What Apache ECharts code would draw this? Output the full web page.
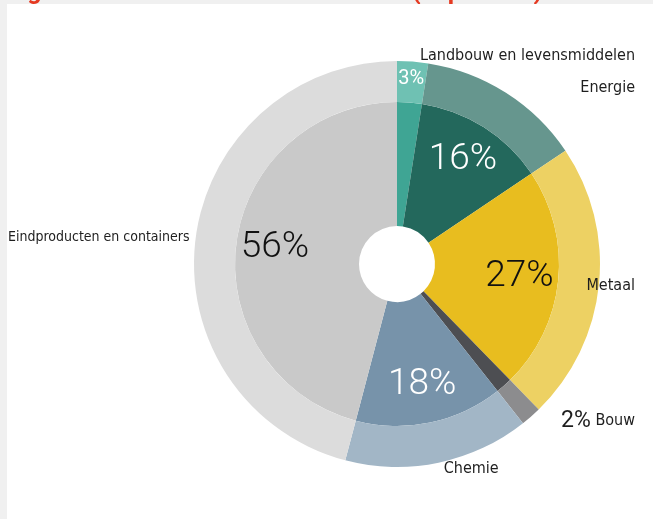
<!DOCTYPE html>
<html>
<head>
<meta charset="utf-8">
<script src="https://cdn.jsdelivr.net/npm/echarts@6/dist/echarts.min.js"></script>
<style>
  html, body { margin: 0; padding: 0; background: #ffffff; }
  #chart { width: 653px; height: 519px; }
</style>
</head>
<body>
<div id="chart"></div>
<script>
// Sectors and their shares (percent)
const sectors = ['Landbouw en levensmiddelen', 'Energie', 'Metaal', 'Bouw', 'Chemie', 'Eindproducten en containers'];
const shares = [3, 16, 27, 2, 18, 56];

// Colours: dark inner ring, light outer ring, colour of the percentage text
const innerColors = ['#3FA594', '#23685C', '#E8BD1F', '#4D4E52', '#7793AA', '#C9C9C9'];
const outerColors = ['#6FC1B3', '#66968E', '#EDD163', '#8C8C8E', '#A2B6C6', '#DCDCDC'];
const pctColors = ['#ffffff', '#ffffff', '#111111', '#111111', '#ffffff', '#111111'];
// Where each percentage is written: on the inner ring, on the outer ring, or with the name
const pctPlace = ['outer', 'inner', 'inner', 'name', 'inner', 'inner'];
// How each name label is aligned: to the chart edge or next to its slice
const nameAlign = ['edge', 'edge', 'edge', 'edge', 'none', 'edge'];

const titleText = 'Figuur 1 Afzet van staal naar sector (in procent)';

const NAME_FONT = '"DejaVu Sans Condensed", "Liberation Sans", sans-serif';
const NUM_FONT = 'Roboto, "Liberation Sans", sans-serif';
const CENTER = [397, 264];
const TEXT = '#1e1e1e';

const chart = echarts.init(document.getElementById('chart'), null, { renderer: 'canvas' });

const base = {
  type: 'pie',
  center: CENTER,
  startAngle: 90,
  clockwise: true,
  avoidLabelOverlap: false,
  animation: false,
  emphasis: { disabled: true },
  labelLine: { show: false }
};

// Visible inner ring
const innerRing = Object.assign({}, base, {
  name: 'inner',
  radius: [38, 162],
  label: { show: false },
  data: sectors.map((s, i) => ({ name: s, value: shares[i], itemStyle: { color: innerColors[i] } }))
});

// Visible outer ring, carrying the sector names outside
const outerRing = Object.assign({}, base, {
  name: 'outer',
  radius: [162, 203],
  labelLine: { show: false, length: 6, length2: 0 },
  label: {
    show: true,
    position: 'outside',
    fontFamily: NAME_FONT,
    fontSize: 16,
    color: TEXT,
    overflow: 'none',
    edgeDistance: 18,
    distanceToLabelLine: 4,
    formatter: p => pctPlace[p.dataIndex] === 'name' ? '{v|' + p.value + '%} {n|' + p.name + '}' : p.name,
    rich: {
      v: { fontFamily: NUM_FONT, fontSize: 23, color: TEXT },
      n: { fontFamily: NAME_FONT, fontSize: 16, color: TEXT }
    }
  },
  data: sectors.map((s, i) => ({
    name: s,
    value: shares[i],
    itemStyle: { color: outerColors[i] },
    label: nameAlign[i] === 'edge'
      ? { alignTo: 'edge', fontSize: i === 5 ? 14 : 16, edgeDistance: i === 5 ? 8 : 18 }
      : { alignTo: 'none' }
  }))
});

// Percentages written on the inner ring
const innerPct = Object.assign({}, base, {
  name: 'innerPct',
  radius: [78, 162],
  silent: true,
  z: 3,
  itemStyle: { color: 'rgba(0,0,0,0)' },
  label: {
    show: true,
    position: 'inside',
    fontFamily: NUM_FONT,
    fontWeight: 300,
    fontSize: 37,
    formatter: p => pctPlace[p.dataIndex] === 'inner' ? p.value + '%' : ''
  },
  data: sectors.map((s, i) => ({ name: s, value: shares[i], label: { color: pctColors[i] } }))
});

// Percentages written on the outer ring
const outerPct = Object.assign({}, base, {
  name: 'outerPct',
  radius: [162, 203],
  silent: true,
  z: 3,
  itemStyle: { color: 'rgba(0,0,0,0)' },
  label: {
    show: true,
    position: 'inside',
    fontFamily: NUM_FONT,
    fontSize: 20,
    formatter: p => pctPlace[p.dataIndex] === 'outer' ? p.value + '%' : ''
  },
  data: sectors.map((s, i) => ({ name: s, value: shares[i], label: { color: pctColors[i] } }))
});

chart.setOption({
  backgroundColor: '#F0F0F0',
  graphic: [
    {
      type: 'text',
      x: 7,
      y: -7.5,
      z: -10,
      style: {
        text: titleText,
        fontFamily: NUM_FONT,
        fontWeight: 'bold',
        fontSize: 25,
        fill: '#E53A22',
        align: 'left',
        verticalAlign: 'middle'
      }
    },
    {
      type: 'rect',
      z: -5,
      shape: { x: 7, y: 4, width: 646, height: 515 },
      style: { fill: '#ffffff' }
    }
  ],
  series: [innerRing, outerRing, innerPct, outerPct]
});
</script>
</body>
</html>
